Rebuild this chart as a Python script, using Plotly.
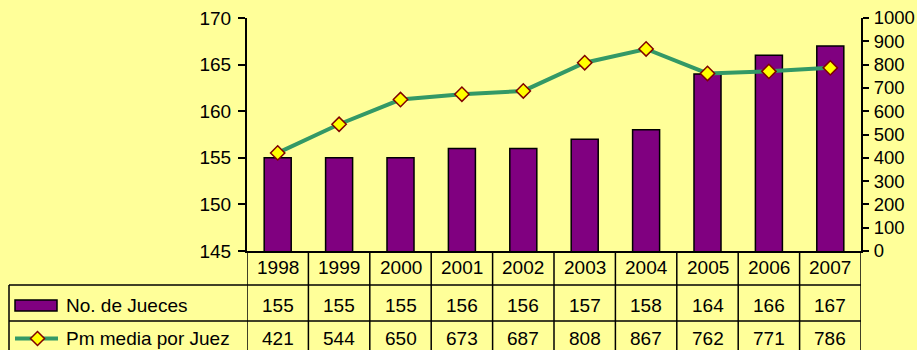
import plotly.graph_objects as go

# Series data
years = ["1998", "1999", "2000", "2001", "2002", "2003", "2004", "2005", "2006", "2007"]
jueces = [155, 155, 155, 156, 156, 157, 158, 164, 166, 167]
pm_media = [421, 544, 650, 673, 687, 808, 867, 762, 771, 786]

series_names = ["No. de Jueces", "Pm media por Juez"]

# Figure geometry (pixels)
W, H = 917, 350
L, R, T, B = 247, 861, 18, 251
PW, PH = R - L, B - T

BG = "#FFFF99"
BAR_COLOR = "#800080"
LINE_COLOR = "#339966"
FONT = "Liberation Sans, Arial, sans-serif"
FS = 19


def px(xp):
    return (xp - L) / PW


def py(yp):
    return (B - yp) / PH


fig = go.Figure()

fig.add_trace(go.Bar(
    x=years, y=jueces, name=series_names[0],
    marker=dict(color=BAR_COLOR, line=dict(color="black", width=1.5)),
    width=0.44, yaxis="y",
))
fig.add_trace(go.Scatter(
    x=years, y=pm_media, name=series_names[1], yaxis="y2",
    mode="lines+markers",
    line=dict(color=LINE_COLOR, width=4),
    marker=dict(symbol="diamond", size=11, color="#FFFF00",
                line=dict(color="#800000", width=1.5)),
    cliponaxis=False,
))

shapes = []
annotations = []

# Table rows (pixel boundaries)
row_edges = [B, 285, 321, 357]
row_text_y = [267.5, 305, 338.5]
label_left = 9

# vertical cell dividers under the category axis
for i in range(len(years) + 1):
    shapes.append(dict(type="line", xref="x", yref="paper",
                       x0=i - 0.5, x1=i - 0.5, y0=py(row_edges[0]), y1=py(row_edges[3]),
                       line=dict(color="black", width=1.5)))
# label column left border
shapes.append(dict(type="line", xref="paper", yref="paper",
                   x0=px(label_left), x1=px(label_left), y0=py(row_edges[1]), y1=py(row_edges[3]),
                   line=dict(color="black", width=1.5)))
# horizontal row dividers
for yp in row_edges[1:]:
    shapes.append(dict(type="line", xref="paper", yref="paper",
                       x0=px(label_left), x1=1, y0=py(yp), y1=py(yp),
                       line=dict(color="black", width=1.5)))

cell_font = dict(family=FONT, size=FS, color="black")

# Table text: years, then series values (positioned by category index)
for i, yr in enumerate(years):
    annotations.append(dict(x=i, y=py(row_text_y[0]), xref="x", yref="paper",
                            xanchor="center", yanchor="middle",
                            text=yr, showarrow=False, font=cell_font))
for r, vals in enumerate([jueces, pm_media]):
    for i, v in enumerate(vals):
        annotations.append(dict(x=i, y=py(row_text_y[r + 1]), xref="x", yref="paper",
                                xanchor="center", yanchor="middle",
                                text=str(v), showarrow=False, font=cell_font))

# Row labels with legend keys
for r, name in enumerate(series_names):
    annotations.append(dict(x=px(64), y=py(row_text_y[r + 1]), xref="paper", yref="paper",
                            text=name, showarrow=False, xanchor="left", yanchor="middle",
                            font=cell_font))

# bar key
shapes.append(dict(type="rect", xref="paper", yref="paper",
                   x0=px(15), x1=px(57), y0=py(300), y1=py(311),
                   fillcolor=BAR_COLOR, line=dict(color="black", width=1.5)))
# line key with diamond
key_y = 338.5
shapes.append(dict(type="line", xref="paper", yref="paper",
                   x0=px(15), x1=px(58), y0=py(key_y), y1=py(key_y),
                   line=dict(color=LINE_COLOR, width=4)))
cx, h = 37.5, 7
shapes.append(dict(type="path", xref="paper", yref="paper",
                   path=(f"M {px(cx - h)} {py(key_y)} L {px(cx)} {py(key_y - h)} "
                         f"L {px(cx + h)} {py(key_y)} L {px(cx)} {py(key_y + h)} Z"),
                   fillcolor="#FFFF00", line=dict(color="#800000", width=1.5)))

axis_font = dict(family=FONT, size=FS, color="black")
right_font = dict(family=FONT, size=18.5, color="black")

fig.update_layout(
    width=W, height=H,
    margin=dict(l=L, r=W - R, t=T, b=H - B, pad=0, autoexpand=False),
    paper_bgcolor=BG, plot_bgcolor=BG,
    font=dict(family=FONT, size=FS, color="black"),
    showlegend=False,
    xaxis=dict(type="category", showticklabels=False, ticks="", automargin=False,
               showline=True, linecolor="black", linewidth=2,
               showgrid=False, zeroline=False, range=[-0.5, len(years) - 0.5]),
    yaxis=dict(range=[145, 170], dtick=5, ticks="outside", ticklen=7, tickwidth=1.5,
               tickcolor="black", showline=True, linecolor="black", linewidth=2,
               automargin=False,
               showgrid=False, zeroline=False, tickfont=axis_font, ticklabelstandoff=3),
    yaxis2=dict(range=[0, 1000], dtick=100, overlaying="y", side="right",
                ticks="outside", ticklen=6, tickwidth=1.5, tickcolor="black",
                showline=True, linecolor="black", linewidth=2, automargin=False,
                showgrid=False, zeroline=False, tickfont=right_font, ticklabelstandoff=1),
    yaxis3=dict(range=[145, 170], dtick=5, overlaying="y", side="left",
                ticks="inside", ticklen=4, tickwidth=1.5, tickcolor="black", automargin=False,
                showticklabels=False, showline=False, showgrid=False, zeroline=False),
    yaxis4=dict(range=[0, 1000], dtick=100, overlaying="y", side="right",
                ticks="inside", ticklen=6, tickwidth=1.5, tickcolor="black", automargin=False,
                showticklabels=False, showline=False, showgrid=False, zeroline=False),
    shapes=shapes,
    annotations=annotations,
)

fig.write_html("out.html")
